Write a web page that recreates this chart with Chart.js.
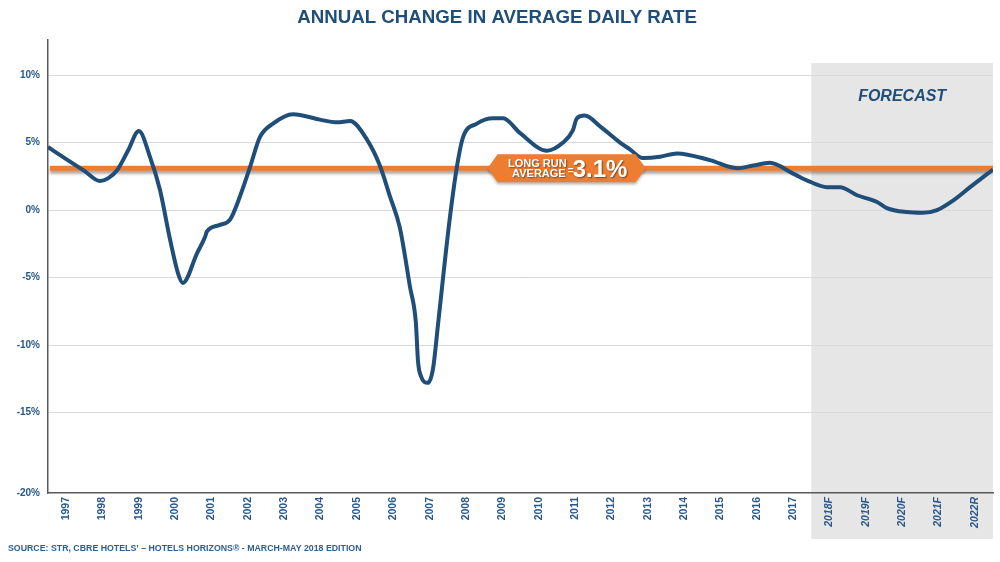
<!DOCTYPE html>
<html>
<head>
<meta charset="utf-8">
<script src="https://cdn.jsdelivr.net/npm/chart.js@4.4.0/dist/chart.umd.min.js"></script>
<style>
html,body{margin:0;padding:0;background:#fff;}
#c{display:block;}
</style>
</head>
<body>
<canvas id="c" width="1000" height="562"></canvas>
<script>
// ---- data ----
const yearLabels = ['1997','1998','1999','2000','2001','2002','2003','2004','2005','2006','2007','2008','2009','2010','2011','2012','2013','2014','2015','2016','2017','2018F','2019F','2020F','2021F','2022R'];
const tickYears = [1997,1998,1999,2000,2001,2002,2003,2004,2005,2006,2007,2008,2009,2010,2011,2012,2013,2014,2015,2016,2017,2018,2019,2020,2021,2022];
const lineYears = [1996.5,1997.0,1997.5,1997.93,1998.15,1998.40,1998.70,1999.00,1999.31,1999.58,1999.86,2000.08,2000.21,2000.60,2000.82,2000.87,2001.23,2001.51,2001.78,2002.06,2002.33,2002.69,2003.24,2003.98,2004.45,2004.81,2005.28,2005.63,2005.91,2006.18,2006.46,2006.62,2006.68,2006.76,2006.95,2007.09,2007.23,2007.39,2007.56,2007.75,2007.92,2008.30,2008.74,2009.02,2009.49,2010.23,2010.67,2010.94,2011.05,2011.27,2011.69,2012.24,2012.51,2012.87,2013.34,2013.81,2014.71,2015.46,2015.90,2016.36,2017.00,2017.46,2017.93,2018.29,2018.76,2019.31,2019.58,2020.13,2020.57,2020.96,2021.40,2021.87,2022.5];
const lineValues = [4.67,3.78,2.9,2.15,2.35,2.95,4.4,5.85,3.9,1.5,-2.2,-4.7,-5.4,-3.2,-2.0,-1.6,-1.1,-0.7,1.0,3.2,5.4,6.4,7.1,6.7,6.5,6.6,5.2,3.3,1.0,-1.3,-5.7,-8.3,-11.2,-12.3,-12.8,-11.8,-8.5,-4.5,-0.5,3.2,5.4,6.4,6.8,6.8,5.7,4.4,5.0,5.9,6.8,7.0,6.2,5.0,4.5,3.85,3.95,4.2,3.7,3.1,3.3,3.5,2.7,2.1,1.7,1.7,1.1,0.6,0.15,-0.15,-0.2,0,0.7,1.7,3.0];
const longRunAverage = 3.1;
const longRunLabelYear = 2010.77;
const forecastStart = 2017.5;
const forecastTop = 10.9;
const xMin = 1996.5, xMax = 2022.5;
const yMin = -20.96, yMax = 12.6;
const yTickValues = [-15,-10,-5,0,5,10];
const yBottomLabel = '-20%';

const FONT = '"Liberation Sans", Arial, sans-serif';
const BLUE = '#1F4E79';
const TICK = '#28578A';
const ORANGE = '#ED7D31';

function fitFont(ctx, text, style, targetW, base){
  ctx.font = style + ' ' + base + 'px ' + FONT;
  const w = ctx.measureText(text).width;
  const size = base * targetW / w;
  ctx.font = style + ' ' + size + 'px ' + FONT;
}

const decor = {
  id: 'decor',
  beforeDraw(chart){
    const {ctx, scales:{x, y}, chartArea:a} = chart;
    ctx.save();
    // forecast band
    const x0 = x.getPixelForValue(forecastStart), x1 = x.getPixelForValue(xMax);
    const top = y.getPixelForValue(forecastTop);
    ctx.fillStyle = '#E7E6E7';
    ctx.fillRect(x0, top, x1 - x0, a.bottom + 46 - top);
    ctx.fillStyle = BLUE;
    ctx.font = 'italic bold 16px ' + FONT;
    ctx.textAlign = 'center';
    ctx.textBaseline = 'middle';
    ctx.fillText('FORECAST', (x0 + x1) / 2, top + 34);
    // title
    const title = 'ANNUAL CHANGE IN AVERAGE DAILY RATE';
    fitFont(ctx, title, 'bold', 400, 17);
    ctx.fillText(title, 497, 18);
    // source
    const src = 'SOURCE: STR, CBRE HOTELS\u2019 \u2013 HOTELS HORIZONS\u00AE - MARCH-MAY 2018 EDITION';
    fitFont(ctx, src, 'bold', 354, 9.5);
    ctx.fillStyle = '#2C5F93';
    ctx.textAlign = 'left';
    ctx.fillText(src, 8, 549);
    ctx.restore();
  },
  beforeDatasetDraw(chart, args){
    if (args.index === 1){
      const ctx = chart.ctx;
      ctx.save();
      ctx.shadowColor = 'rgba(0,0,0,0.35)';
      ctx.shadowBlur = 3;
      ctx.shadowOffsetY = 3;
    }
  },
  afterDatasetDraw(chart, args){
    if (args.index === 1) chart.ctx.restore();
  },
  afterDatasetsDraw(chart){
    const {ctx, scales:{x, y}} = chart;
    const cx = x.getPixelForValue(longRunLabelYear);
    const cy = y.getPixelForValue(longRunAverage);
    const hw = 79, hh = 14, tip = 10;
    ctx.save();
    ctx.shadowColor = 'rgba(0,0,0,0.3)';
    ctx.shadowBlur = 3;
    ctx.shadowOffsetY = 2;
    ctx.fillStyle = ORANGE;
    ctx.beginPath();
    ctx.moveTo(cx - hw, cy);
    ctx.lineTo(cx - hw + tip, cy - hh);
    ctx.lineTo(cx + hw - tip, cy - hh);
    ctx.lineTo(cx + hw, cy);
    ctx.lineTo(cx + hw - tip, cy + hh);
    ctx.lineTo(cx - hw + tip, cy + hh);
    ctx.closePath();
    ctx.fill();
    ctx.shadowColor = 'rgba(60,30,0,0.6)';
    ctx.shadowBlur = 1.5;
    ctx.shadowOffsetX = 1;
    ctx.shadowOffsetY = 1;
    ctx.fillStyle = '#FFFFFF';
    ctx.textBaseline = 'alphabetic';
    ctx.textAlign = 'right';
    ctx.font = 'bold 11px ' + FONT;
    ctx.fillText('LONG RUN', cx + 0, cy - 1);
    ctx.fillText('AVERAGE', cx - 1, cy + 9);
    ctx.textAlign = 'left';
    ctx.font = 'bold 10px ' + FONT;
    ctx.fillText('=', cx + 1, cy + 6);
    ctx.font = 'bold 24px ' + FONT;
    ctx.fillText('3.1%', cx + 6, cy + 9);
    ctx.restore();
  }
};

new Chart(document.getElementById('c'), {
  type: 'line',
  data: {
    datasets: [
      {
        label: 'ADR change',
        data: lineYears.map((yr, i) => ({x: yr, y: lineValues[i]})),
        borderColor: BLUE,
        borderWidth: 4,
        pointRadius: 0,
        cubicInterpolationMode: 'monotone',
        fill: false,
        order: 0
      },
      {
        label: 'Long run average',
        data: [{x: xMin + 0.05, y: longRunAverage}, {x: xMax, y: longRunAverage}],
        borderColor: ORANGE,
        borderWidth: 5,
        pointRadius: 0,
        fill: false,
        order: 1
      }
    ]
  },
  options: {
    responsive: false,
    animation: false,
    devicePixelRatio: 1,
    layout: {padding: {top: 40, right: 7, left: 0, bottom: 0}},
    plugins: {legend: {display: false}, tooltip: {enabled: false}},
    scales: {
      x: {
        type: 'linear',
        min: xMin,
        max: xMax,
        afterFit(s){ s.height = 69; },
        afterBuildTicks(s){ s.ticks = tickYears.map(v => ({value: v})); },
        grid: {display: false, drawTicks: false},
        border: {display: true, color: '#595959', width: 1.5},
        ticks: {
          autoSkip: false,
          minRotation: 90,
          maxRotation: 90,
          padding: 4,
          color: TICK,
          font: (c) => ({family: FONT, size: 10.5, weight: 'bold', style: (c.index >= 21 ? 'italic' : 'normal')}),
          callback: (v, i) => yearLabels[i]
        }
      },
      y: {
        type: 'linear',
        min: yMin,
        max: yMax,
        afterFit(s){ s.width = 48; },
        afterBuildTicks(s){ s.ticks = [yMin].concat(yTickValues).map(v => ({value: v})); },
        grid: {
          drawTicks: false,
          color: (c) => (c.tick && c.tick.value === yMin) ? 'rgba(0,0,0,0)' : '#D9D9D9',
          lineWidth: 1
        },
        border: {display: true, color: '#595959', width: 1.5},
        ticks: {
          padding: 8,
          color: TICK,
          font: {family: FONT, size: 10, weight: 'bold'},
          callback: (v) => v === yMin ? yBottomLabel : v + '%'
        }
      }
    }
  },
  plugins: [decor]
});
</script>
</body>
</html>
